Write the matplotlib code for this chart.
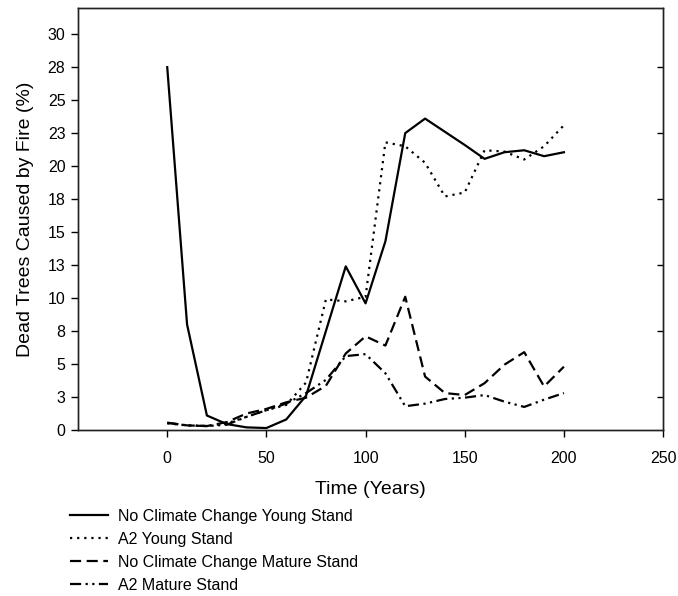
import matplotlib
matplotlib.use('Agg')
import matplotlib.pyplot as plt

plt.rcParams['font.family'] = ['Liberation Sans', 'DejaVu Sans']

# --- Data ---
years = [0, 10, 20, 30, 40, 50, 60, 70, 80, 90, 100,
         110, 120, 130, 140, 150, 160, 170, 180, 190, 200]

ncc_young = [27.5, 8.0, 1.1, 0.45, 0.2, 0.15, 0.8, 2.6, 7.5, 12.4, 9.6,
             14.3, 22.5, 23.6, 22.6, 21.6, 20.55, 21.05, 21.2, 20.75, 21.05]
a2_young = [0.5, 0.35, 0.3, 0.5, 1.0, 1.5, 1.9, 3.6, 9.9, 9.75, 10.1,
            21.8, 21.5, 20.25, 17.7, 18.0, 21.2, 21.1, 20.5, 21.5, 23.1]
ncc_mature = [0.55, 0.35, 0.3, 0.6, 1.25, 1.6, 2.1, 2.45, 3.35, 5.8, 7.1,
              6.4, 10.1, 4.05, 2.8, 2.65, 3.55, 4.95, 5.9, 3.3, 4.8]
a2_mature = [0.55, 0.35, 0.3, 0.4, 1.0, 1.5, 2.0, 2.8, 3.8, 5.6, 5.75,
             4.3, 1.8, 2.0, 2.35, 2.45, 2.65, 2.15, 1.75, 2.3, 2.8]

series_labels = ['No Climate Change Young Stand', 'A2 Young Stand',
                 'No Climate Change Mature Stand', 'A2 Mature Stand']

y_ticks = [0, 2.5, 5, 7.5, 10, 12.5, 15, 17.5, 20, 22.5, 25, 27.5, 30]
y_ticklabels = ['0', '3', '5', '8', '10', '13', '15', '18', '20', '23', '25', '28', '30']
x_ticks = [0, 50, 100, 150, 200, 250]

# --- Plot ---
fig = plt.figure(figsize=(6.78, 5.96), dpi=100)
ax = fig.add_axes([0.115, 0.2785, 0.863, 0.7085])

lw = 1.6
ax.plot(years, ncc_young, color='black', lw=lw, linestyle='-', label=series_labels[0])
ax.plot(years, a2_young, color='black', lw=lw, linestyle=(0, (1, 2.2)), label=series_labels[1])
ax.plot(years, ncc_mature, color='black', lw=lw, linestyle=(0, (5, 2.5)), label=series_labels[2])
ax.plot(years, a2_mature, color='black', lw=lw, linestyle=(0, (5, 2, 1, 2, 1, 2)),
        label=series_labels[3])

ax.set_xlim(-45, 250)
ax.set_ylim(0, 32)
ax.set_xticks(x_ticks)
ax.set_yticks(y_ticks)
ax.set_yticklabels(y_ticklabels)
ax.tick_params(axis='both', direction='out', length=5, width=1, labelsize=11.5, pad=4)
ax.tick_params(axis='x', pad=10)

# small inward ticks on the right spine
axr = ax.twinx()
axr.set_ylim(0, 32)
axr.set_yticks([2.5, 7.5, 12.5, 17.5, 22.5, 27.5])
axr.tick_params(axis='y', direction='in', length=4, width=1, labelright=False)

for a in (ax, axr):
    for s in a.spines.values():
        s.set_linewidth(1.0)
        s.set_color('#222222')

ax.set_xlabel('Time (Years)', fontsize=14, labelpad=11)
ax.set_ylabel('Dead Trees Caused by Fire (%)', fontsize=14, labelpad=10)

handles, labels = ax.get_legend_handles_labels()
fig.legend(handles, labels, loc='upper left', bbox_to_anchor=(0.103, 0.146),
           bbox_transform=fig.transFigure, frameon=False, fontsize=11.5,
           handlelength=2.4, handletextpad=0.6, labelspacing=0.5,
           borderpad=0, borderaxespad=0)

fig.savefig('out.png', dpi=100)
